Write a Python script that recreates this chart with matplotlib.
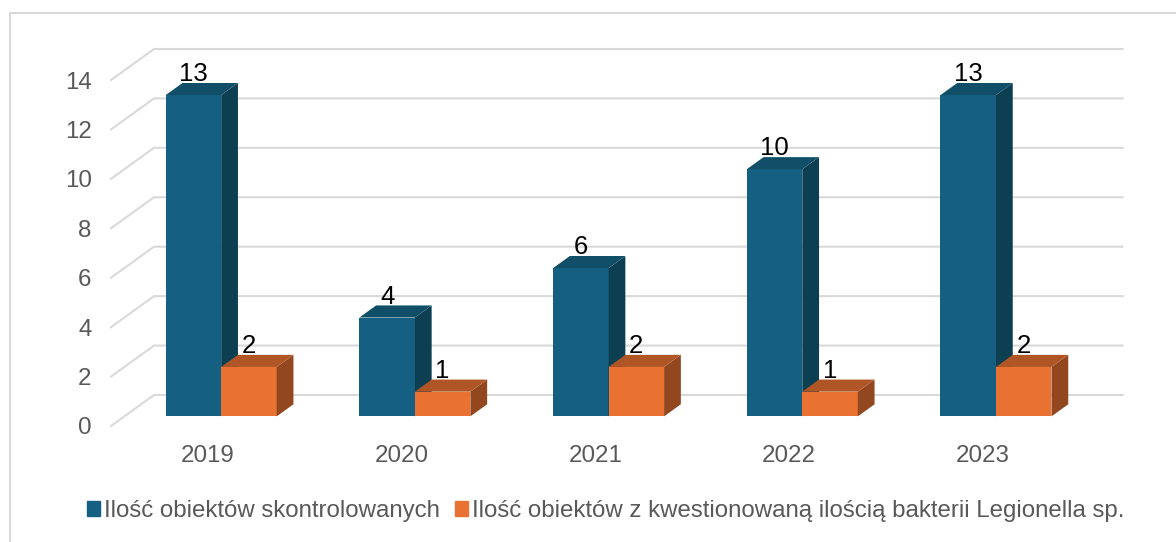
import matplotlib
matplotlib.use("Agg")
import matplotlib.pyplot as plt
from matplotlib.lines import Line2D
from matplotlib.patches import Patch

plt.rcParams['font.family'] = ['Liberation Sans', 'DejaVu Sans']

years = ['2019', '2020', '2021', '2022', '2023']
controlled = [13, 4, 6, 10, 13]
questioned = [2, 1, 2, 1, 2]
y_ticks = [0, 2, 4, 6, 8, 10, 12, 14]
legend_labels = ['Ilość obiektów skontrolowanych',
                 'Ilość obiektów z kwestionowaną ilością bakterii Legionella sp.']

W, H = 1176, 542
fig = plt.figure(figsize=(W / 100, H / 100), dpi=100)
ax = fig.add_axes([111 / W, (H - 426) / H, 968.5 / W, 346 / H])
ax.set_xlim(-0.5, 4.5)
ax.set_ylim(0, 14)
for s in ax.spines.values():
    s.set_visible(False)

# depth of the fake 3d box, in data units
DX = 43 / 193.7
DY = 31 / 24.7
D0, D1 = 0.31, 0.70
BW = 55.5 / 193.7

grid = '#d9d9d9'
for t in y_ticks:
    ax.plot([-0.5, -0.5 + DX, 4.5 + DX], [t, t + DY, t + DY], color=grid, lw=1.5,
            clip_on=False, zorder=1, solid_joinstyle='miter')


def box(x, v, front, side, top):
    # x is the left edge of the front face
    xa, xb = x + D0 * DX, x + BW + D0 * DX
    y0 = D0 * DY
    xc, xd = x + D1 * DX, x + BW + D1 * DX
    y1 = D1 * DY
    ax.bar(xa, v, BW, bottom=y0, align='edge', color=front, clip_on=False, zorder=3)
    ax.fill([xb, xd, xd, xb], [y0, y1, v + y1, v + y0], color=side, lw=0, clip_on=False, zorder=3)
    ax.fill([xa, xb, xd, xc], [v + y0, v + y0, v + y1, v + y1], color=top, lw=0, clip_on=False, zorder=3)
    ax.text(xa + BW / 2, v + y0 + 21 / 24.7, str(v), ha='center', va='center',
            fontsize=18.5, color='black', zorder=4, clip_on=False)


for i in range(len(years)):
    box(i - BW, controlled[i], '#156082', '#0d3f52', '#114f69')
    box(i, questioned[i], '#e97132', '#92471f', '#b05626')

ax.set_xticks(range(len(years)))
ax.set_xticklabels(years)
ax.set_yticks(y_ticks)
ax.tick_params(axis='both', length=0, labelsize=17.4, labelcolor='#595959')
ax.tick_params(axis='x', pad=13.5)
ax.tick_params(axis='y', pad=14)

# chart frame, only top and left edges show in the crop
fig.add_artist(Line2D([10 / W, 10 / W, 1], [0, (H - 13) / H, (H - 13) / H],
                      transform=fig.transFigure, color=grid, lw=1.5))

handles = [Patch(color='#156082'), Patch(color='#e97132')]
fig.legend(handles, legend_labels, loc='center', bbox_to_anchor=(606 / W, (H - 511) / H),
           ncol=2, frameon=False, fontsize=17.3, labelcolor='#595959',
           handlelength=0.54, handleheight=0.54, handletextpad=0.18, columnspacing=0.62,
           borderpad=0, borderaxespad=0)

fig.savefig('out.png', dpi=100)
